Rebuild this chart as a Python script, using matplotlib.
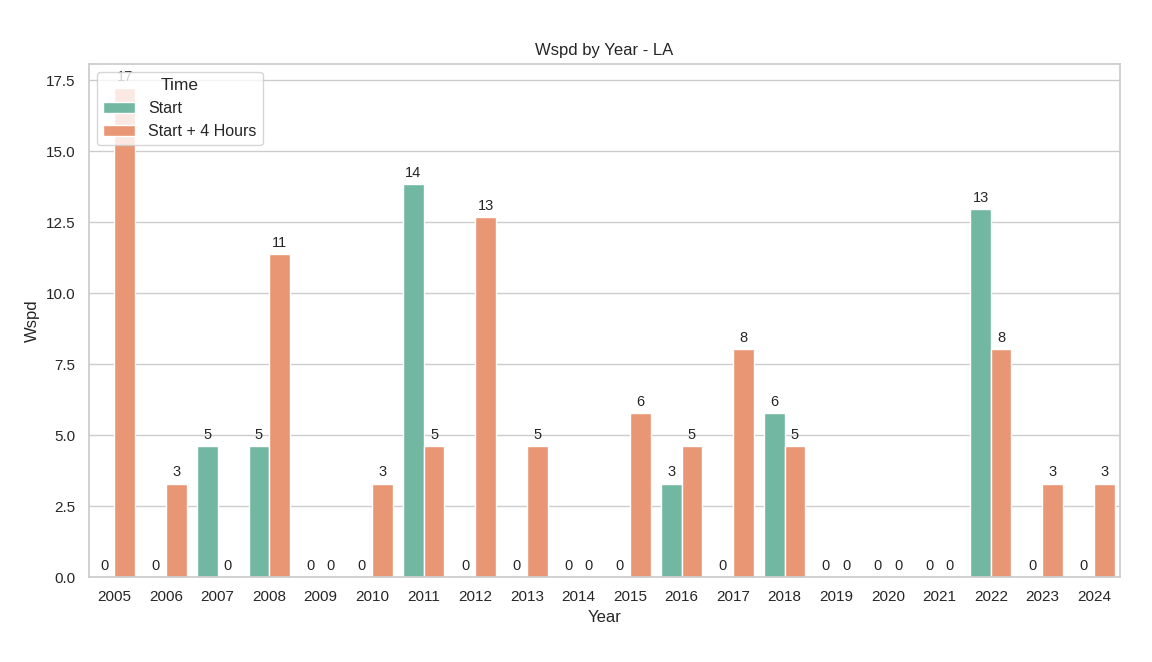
import numpy as np
import matplotlib
matplotlib.use("Agg")
import matplotlib.pyplot as plt
import seaborn as sns

years = list(range(2005, 2025))
start = [0, 0, 4.63, 4.63, 0, 0, 13.83, 0, 0, 0,
         0, 3.3, 0, 5.78, 0, 0, 0, 12.97, 0, 0]
start_4h = [17.22, 3.3, 0, 11.38, 0, 3.3, 4.63, 12.69, 4.63, 0,
            5.78, 4.63, 8.02, 4.63, 0, 0, 0, 8.02, 3.3, 3.3]
series_names = ["Start", "Start + 4 Hours"]
colors = ["#72b7a1", "#e99674"]

sns.set_theme(style="whitegrid")
plt.rcParams["font.family"] = ["Liberation Sans", "DejaVu Sans"]

fig = plt.figure(figsize=(11.52, 6.62), dpi=100)
ax = fig.add_axes([0.077, 0.128, 0.895, 0.776])

x = np.arange(len(years))
w = 0.4
for i, (vals, name) in enumerate(zip([start, start_4h], series_names)):
    bars = ax.bar(x - w / 2 + i * w, vals, width=w, color=colors[i],
                  edgecolor="white", linewidth=1, label=name)
    ax.bar_label(bars, fmt="%.0f", padding=3, fontsize=10.5, color="#262626")

ax.set_xticks(x)
ax.set_xticklabels(years)
ax.set_xlim(-0.5, len(years) - 0.5)
ax.grid(False, axis="x")
ax.set_xlabel("Year")
ax.set_ylabel("Wspd")
ax.set_title("Wspd by Year - LA")
ax.legend(title="Time", loc="upper left", fontsize=11.5, title_fontsize=12.5)

fig.savefig("out.png", dpi=100)
